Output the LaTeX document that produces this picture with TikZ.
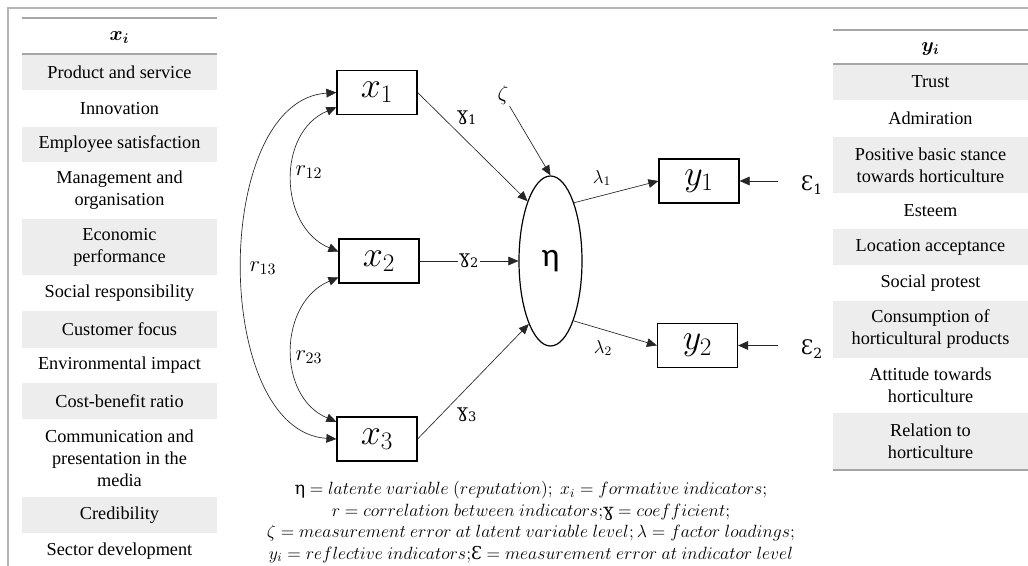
\RequirePackage{fix-cm}
\documentclass[tikz,border=0pt]{standalone}
\usepackage[no-math]{fontspec}
\setmainfont{Liberation Serif}
\newfontfamily\tnr{Liberation Serif}
\newfontfamily\dvs{DejaVu Serif}
\newfontfamily\carl{Carlito}
\usepackage{bm}
\usetikzlibrary{arrows.meta,shapes.geometric,calc}
\definecolor{tblgray}{HTML}{EDEDED}
\definecolor{rulegray}{HTML}{A6A6A6}
\definecolor{framegray}{HTML}{B4B4B4}
\tikzset{
  rowtxt/.style={minimum width=146.25pt, inner sep=0pt, align=center, font=\tnr\fontsize{13.7}{16.5}\selectfont},
  shaded/.style={rowtxt, fill=tblgray},
  tblrule/.style={draw=rulegray, line width=1.4pt},
  frameline/.style={draw=framegray, line width=1.1pt},
  obs/.style={draw=black, line width=0.9pt, minimum width=60pt, minimum height=33pt, inner sep=0pt, font=\fontsize{27}{27}\selectfont},
  lat/.style={ellipse, draw=black, line width=0.9pt, minimum width=47.25pt, minimum height=127.5pt, inner sep=0pt, font=\carl\fontsize{25}{25}\selectfont},
  arr/.style={-{Triangle[length=7.5pt,width=6.5pt]}, line width=0.5pt, draw=black!85},
  dbl/.style={{Triangle[length=7.5pt,width=6.5pt]}-{Triangle[length=7.5pt,width=6.5pt]}, line width=0.5pt, draw=black!85},
  rlbl/.style={inner sep=1pt, font=\fontsize{17}{17}\selectfont},
  glbl/.style={inner sep=1pt, font=\dvs\fontsize{14}{14}\selectfont},
  llbl/.style={inner sep=1pt, font=\fontsize{14}{14}\selectfont},
  hdr/.style={inner sep=0pt, font=\fontsize{15}{15}\selectfont},
  caption/.style={align=center, inner sep=0pt, font=\fontsize{13.3}{16.1}\selectfont}
}
\begin{document}
\begin{tikzpicture}[x=0.75pt,y=-0.75pt]
\useasboundingbox (0,0) rectangle (1028,566);
% frame
\draw[frameline] (8,566) -- (8,8) -- (1028,8);

% left table
\node[hdr] (xhead) at (119.5,38) {$\bm{x_i}$};
\node[shaded, minimum height=27pt] (l1) at (119.5,72) {Product and service};
\node[rowtxt, minimum height=27.75pt] (l2) at (119.5,108.5) {Innovation};
\node[shaded, minimum height=26.25pt] (l3) at (119.5,144.5) {Employee satisfaction};
\node[rowtxt, minimum height=42.75pt] (l4) at (119.5,190.5) {Management and\\organisation};
\node[shaded, minimum height=42pt] (l5) at (119.5,247) {Economic\\performance};
\node[rowtxt, minimum height=27pt] (l6) at (119.5,293) {Social responsibility};
\node[shaded, minimum height=27.75pt] (l7) at (119.5,329.5) {Customer focus};
\node[rowtxt, minimum height=26.25pt] (l8) at (119.5,365.5) {Environmental impact};
\node[shaded, minimum height=27pt] (l9) at (119.5,401) {Cost-benefit ratio};
\node[rowtxt, minimum height=58.5pt] (l10) at (119.5,458) {Communication and\\presentation in the\\media};
\node[shaded, minimum height=27pt] (l11) at (119.5,515) {Credibility};
\node[rowtxt, minimum height=27pt] (l12) at (119.5,551) {Sector development};
\draw[tblrule] (22,18) -- (217,18);
\draw[tblrule] (22,54) -- (217,54);

% right table
\node[hdr] (yhead) at (930.5,49) {$\bm{y_i}$};
\node[shaded, minimum height=27pt] (r1) at (930.5,82) {Trust};
\node[rowtxt, minimum height=27.75pt] (r2) at (930.5,118.5) {Admiration};
\node[shaded, minimum height=42pt] (r3) at (930.5,165) {Positive basic stance\\towards horticulture};
\node[rowtxt, minimum height=27pt] (r4) at (930.5,211) {Esteem};
\node[shaded, minimum height=27pt] (r5) at (930.5,247) {Location acceptance};
\node[rowtxt, minimum height=27pt] (r6) at (930.5,283) {Social protest};
\node[shaded, minimum height=42.75pt] (r7) at (930.5,329.5) {Consumption of\\horticultural products};
\node[rowtxt, minimum height=41.25pt] (r8) at (930.5,385.5) {Attitude towards\\horticulture};
\node[shaded, minimum height=42.75pt] (r9) at (930.5,441.5) {Relation to\\horticulture};
\draw[tblrule] (833,30) -- (1028,30);
\draw[tblrule] (833,64) -- (1028,64);
\draw[tblrule] (833,470) -- (1028,470);

% model nodes
\node[obs] (x1) at (377,92.5) {$x_1$};
\node[obs] (x2) at (379,261) {$x_2$};
\node[obs] (x3) at (377,439) {$x_3$};
\node[lat] (eta) at (550.5,261) {η};
\node[obs] (y1) at (699,181) {$y_1$};
\node[obs] (y2) at (697.5,345.5) {$y_2$};
\node[inner sep=1pt, font=\fontsize{16}{16}\selectfont] (zeta) at (503,95) {$\zeta$};
\node[inner sep=0pt, font=\dvs\fontsize{15}{15}\selectfont] (e1) at (812,185) {Ɛ\textsubscript{1}};
\node[inner sep=0pt, font=\dvs\fontsize{15}{15}\selectfont] (e2) at (812,349) {Ɛ\textsubscript{2}};

% paths
\draw[arr] (x1.east) -- (eta.111);
\draw[arr] (zeta) -- (eta.north);
\draw[arr] (x2.east) -- node[fill=white, inner xsep=12pt, inner ysep=3pt, glbl] (g2) {ɣ\textsubscript{2}} (eta.west);
\draw[arr] (x3.east) -- (eta.251);
\draw[arr] (eta.68) -- (y1.west);
\draw[arr] (eta.-69) -- (y2.west);
\draw[arr] ([xshift=-17pt]e1.west |- y1.east) -- (y1.east);
\draw[arr] ([xshift=-17pt]e2.west |- y2.east) -- (y2.east);

% correlations
\draw[dbl] (x1.200) .. controls +(-60,25) and +(-60,-25) .. (x2.167);
\draw[dbl] (x2.202) .. controls +(-60,25) and +(-60,-25) .. (x3.157);
\draw[dbl] (x1.west) .. controls +(-125,8) and +(-125,-8) .. (x3.west);

% labels
\node[glbl] (g1) at (467,118) {ɣ\textsubscript{1}};
\node[glbl] (g3) at (467,415) {ɣ\textsubscript{3}};
\node[llbl] (lam1) at (602,178) {$\lambda_1$};
\node[llbl] (lam2) at (603,348) {$\lambda_2$};
\node[rlbl] (r12) at (309,172) {$r_{12}$};
\node[rlbl] (r23) at (309,357) {$r_{23}$};
\node[rlbl] (r13) at (263,268) {$r_{13}$};

% caption
\node[caption] (cap) at (531,522) {%
{\dvs η} $= latente\ variable\ (reputation);\ x_i = formative\ indicators;$\\
$r = correlation\ between\ indicators;$\mbox{\dvs ɣ}$\ = coefficient;$\\
$\zeta = measurement\ error\ at\ latent\ variable\ level;\lambda = factor\ loadings;$\\
$y_i = reflective\ indicators;$\mbox{\dvs Ɛ}$\ = measurement\ error\ at\ indicator\ level$};
\end{tikzpicture}
\end{document}
